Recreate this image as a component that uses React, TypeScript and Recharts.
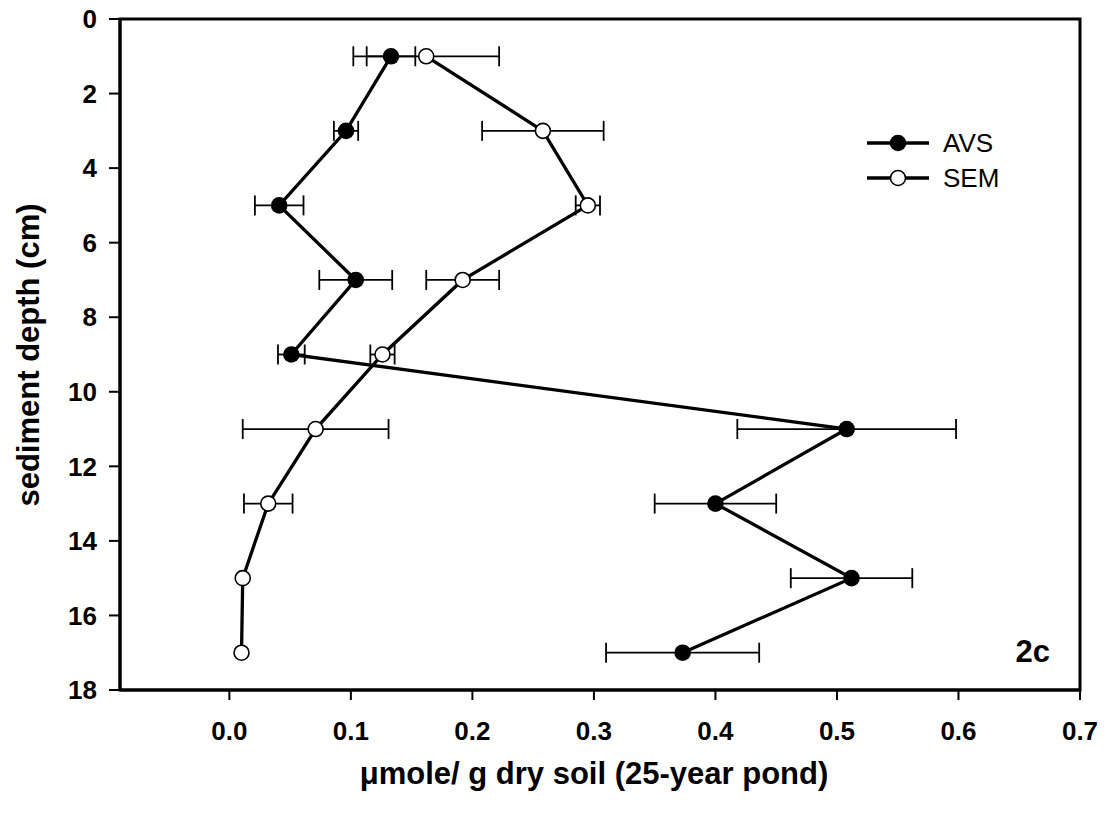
import { ScatterChart, Scatter, XAxis, YAxis, ErrorBar, ReferenceArea, Customized } from "recharts";

const depths = [1, 3, 5, 7, 9, 11, 13, 15, 17];
const avs = [0.133, 0.096, 0.041, 0.104, 0.051, 0.508, 0.4, 0.512, 0.373];
const avsErr = [0.02, 0.01, 0.02, 0.03, 0.011, 0.09, 0.05, 0.05, 0.063];
const sem = [0.162, 0.258, 0.295, 0.192, 0.126, 0.071, 0.032, 0.011, 0.01];
const semErr = [0.06, 0.05, 0.01, 0.03, 0.01, 0.06, 0.02, null, null];

const xTicks = [0, 0.1, 0.2, 0.3, 0.4, 0.5, 0.6, 0.7];
const yTicks = [0, 2, 4, 6, 8, 10, 12, 14, 16, 18];

const avsData = depths.map((d, i) => ({ x: avs[i], y: d, err: avsErr[i] }));
const semData = depths.map((d, i) => ({ x: sem[i], y: d, err: semErr[i] }));

const font = '"Liberation Sans", Arial, Helvetica, sans-serif';

const FilledDot = (p: any) => <circle cx={p.cx} cy={p.cy} r={8.3} fill="#000" />;
const OpenDot = (p: any) => (
  <circle cx={p.cx} cy={p.cy} r={7.5} fill="#fff" stroke="#000" strokeWidth={1.6} />
);

// legend, panel tag and axis titles
function Legend() {
  return (
    <g fontFamily={font} fontSize={26}>
      <line x1={867} x2={929} y1={143} y2={143} stroke="#000" strokeWidth={3.3} />
      <circle cx={898} cy={143} r={8.3} fill="#000" />
      <text x={943} y={143} dominantBaseline="central">AVS</text>
      <line x1={867} x2={929} y1={178} y2={178} stroke="#000" strokeWidth={3.3} />
      <circle cx={898} cy={178} r={7.5} fill="#fff" stroke="#000" strokeWidth={1.6} />
      <text x={943} y={178} dominantBaseline="central">SEM</text>
      <text x={1050} y={662} textAnchor="end" fontWeight="bold" fontSize={31}>2c</text>
      <text x={594} y={784} textAnchor="middle" fontWeight="bold" fontSize={31}>
        μmole/ g dry soil (25-year pond)
      </text>
      <text
        x={39}
        y={355}
        textAnchor="middle"
        fontWeight="bold"
        fontSize={31}
        transform="rotate(-90 39 355)"
      >
        sediment depth (cm)
      </text>
    </g>
  );
}

export default function App() {
  return (
    <div style={{ position: "absolute", left: 0, top: 0, background: "#fff" }}>
      <ScatterChart
        width={1110}
        height={813}
        margin={{ top: 19, right: 30, bottom: 63, left: 20 }}
        style={{ fontFamily: font }}
      >
        <XAxis
          type="number"
          dataKey="x"
          domain={[-0.09, 0.7]}
          ticks={xTicks}
          tickFormatter={(v: number) => v.toFixed(1)}
          height={60}
          tickSize={10}
          tickMargin={22}
          axisLine={{ stroke: "#000", strokeWidth: 3 }}
          tickLine={{ stroke: "#000", strokeWidth: 2 }}
          tick={{ fill: "#000", fontSize: 26, fontWeight: "bold", fontFamily: font }}
          allowDataOverflow
        />
        <YAxis
          type="number"
          dataKey="y"
          domain={[0, 18]}
          ticks={yTicks}
          reversed
          width={100}
          tickSize={11}
          tickMargin={12}
          axisLine={{ stroke: "#000", strokeWidth: 3 }}
          tickLine={{ stroke: "#000", strokeWidth: 2 }}
          tick={{ fill: "#000", fontSize: 26, fontWeight: "bold", fontFamily: font }}
          allowDataOverflow
        />
        <ReferenceArea
          x1={-0.09}
          x2={0.7}
          y1={0}
          y2={18}
          fill="none"
          stroke="#000"
          strokeWidth={3}
          fillOpacity={0}
        />
        <Scatter
          name="SEM"
          data={semData}
          line={{ stroke: "#000", strokeWidth: 3.3 }}
          lineType="joint"
          shape={OpenDot}
          isAnimationActive={false}
        >
          <ErrorBar dataKey="err" direction="x" width={10} stroke="#000" strokeWidth={1.8} />
        </Scatter>
        <Scatter
          name="AVS"
          data={avsData}
          line={{ stroke: "#000", strokeWidth: 3.3 }}
          lineType="joint"
          shape={FilledDot}
          isAnimationActive={false}
        >
          <ErrorBar dataKey="err" direction="x" width={10} stroke="#000" strokeWidth={1.8} />
        </Scatter>
        <Customized component={Legend} />
      </ScatterChart>
    </div>
  );
}
